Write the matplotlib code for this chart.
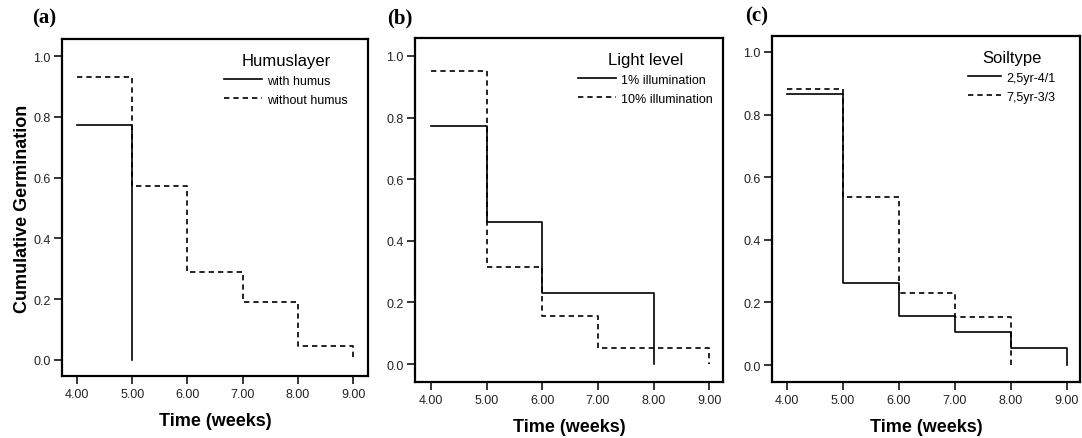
import matplotlib
matplotlib.use("Agg")
import matplotlib.pyplot as plt

# ---- data ----
panel_letters = ["(a)", "(b)", "(c)"]
legend_titles = ["Humuslayer", "Light level", "Soiltype"]

a_labels = ["with humus", "without humus"]
a_solid_t = [4, 5]
a_solid_v = [0.773, 0.0]
a_dash_t = [4, 5, 6, 7, 8, 9]
a_dash_v = [0.931, 0.572, 0.288, 0.190, 0.047, 0.0]

b_labels = ["1% illumination", "10% illumination"]
b_solid_t = [4, 5, 6, 8]
b_solid_v = [0.772, 0.461, 0.230, 0.0]
b_dash_t = [4, 5, 6, 7, 9]
b_dash_v = [0.950, 0.315, 0.157, 0.053, 0.0]

c_labels = ["2,5yr-4/1", "7,5yr-3/3"]
c_solid_t = [4, 5, 6, 7, 8, 9]
c_solid_v = [0.866, 0.262, 0.157, 0.105, 0.053, 0.0]
c_dash_t = [4, 5, 6, 7, 8]
c_dash_v = [0.883, 0.537, 0.230, 0.154, 0.0]

x_ticks = [4, 5, 6, 7, 8, 9]
x_ticklabels = ["4.00", "5.00", "6.00", "7.00", "8.00", "9.00"]
y_ticks = [0.0, 0.2, 0.4, 0.6, 0.8, 1.0]
y_ticklabels = ["0.0", "0.2", "0.4", "0.6", "0.8", "1.0"]
x_label = "Time (weeks)"
y_label = "Cumulative Germination"

plt.rcParams['font.family'] = ['Liberation Sans', 'DejaVu Sans']

fig = plt.figure(figsize=(10.82, 4.39), dpi=100)
W, H = 1082.0, 439.0
# pixel boxes: left, top, right, bottom
boxes = [(62, 40, 368, 377), (415, 39, 723, 383), (772, 37, 1080, 383)]
ylims = [(-0.053, 1.056), (-0.058, 1.058), (-0.054, 1.051)]
xlims = [(3.73, 9.27), (3.71, 9.25), (3.73, 9.24)]
letter_pos = [(32, 18), (387, 18), (745, 16)]
legend_x = [0.962, 0.995, 0.948]
handle_len = [3.0, 3.0, 2.6]

panels = [
    (a_solid_t, a_solid_v, a_dash_t, a_dash_v, a_labels),
    (b_solid_t, b_solid_v, b_dash_t, b_dash_v, b_labels),
    (c_solid_t, c_solid_v, c_dash_t, c_dash_v, c_labels),
]

dash_style = (0, (3.2, 2.4))

for i, (st, sv, dt, dv, labs) in enumerate(panels):
    l, t, r, b = boxes[i]
    ax = fig.add_axes([l / W, 1 - b / H, (r - l) / W, (b - t) / H])
    ax.step(st, sv, where='post', color='black', lw=1.2, label=labs[0])
    ax.step(dt, dv, where='post', color='black', lw=1.2, linestyle=dash_style, label=labs[1])
    ax.set_xlim(*xlims[i])
    ax.set_ylim(*ylims[i])
    ax.set_xticks(x_ticks)
    ax.set_xticklabels(x_ticklabels)
    ax.set_yticks(y_ticks)
    ax.set_yticklabels(y_ticklabels)
    ax.tick_params(axis='both', direction='out', length=6, width=1.1, labelsize=9,
                   color='black', labelcolor='#222222')
    ax.tick_params(axis='x', pad=3)
    ax.tick_params(axis='y', pad=2)
    for s in ax.spines.values():
        s.set_linewidth(1.6)
        s.set_color('black')
    ax.set_xlabel(x_label, fontsize=13, fontweight='bold', labelpad=8)
    if i == 0:
        ax.set_ylabel(y_label, fontsize=13, fontweight='bold', labelpad=2)
    leg = ax.legend(title=legend_titles[i], loc='upper right', frameon=False,
                    fontsize=9, title_fontsize=12, handlelength=handle_len[i],
                    handletextpad=0.4, labelspacing=0.55,
                    bbox_to_anchor=(legend_x[i], 0.985), borderaxespad=0.3)
    for line in leg.get_lines():
        line.set_linewidth(1.2)
    lx, ly = letter_pos[i]
    fig.text(lx / W, 1 - ly / H, panel_letters[i], fontsize=15, fontweight='bold',
             family=['Liberation Serif', 'DejaVu Serif'], ha='left', va='center')

fig.savefig("out.png", dpi=100)
